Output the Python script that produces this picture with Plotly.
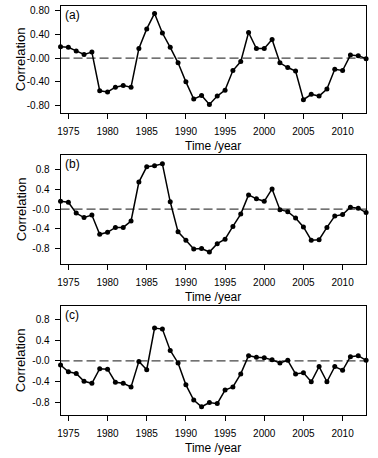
import plotly.graph_objects as go

years = list(range(1974, 2014))

corr_a = [0.19, 0.18, 0.12, 0.06, 0.10, -0.55, -0.57, -0.49, -0.46, -0.49,
          0.16, 0.49, 0.75, 0.42, 0.18, -0.08, -0.40, -0.69, -0.63, -0.78,
          -0.64, -0.54, -0.21, -0.06, 0.43, 0.16, 0.16, 0.31, -0.08, -0.16,
          -0.22, -0.70, -0.61, -0.64, -0.52, -0.19, -0.21, 0.05, 0.04, -0.01]

corr_b = [0.16, 0.14, -0.08, -0.17, -0.12, -0.51, -0.47, -0.37, -0.37, -0.24,
          0.55, 0.86, 0.88, 0.92, 0.15, -0.46, -0.63, -0.81, -0.80, -0.87,
          -0.70, -0.61, -0.35, -0.10, 0.29, 0.21, 0.16, 0.41, -0.01, -0.05,
          -0.18, -0.36, -0.63, -0.62, -0.37, -0.14, -0.11, 0.04, 0.02, -0.07]

corr_c = [-0.08, -0.21, -0.24, -0.39, -0.43, -0.15, -0.16, -0.41, -0.43, -0.50,
          -0.01, -0.17, 0.63, 0.61, 0.20, -0.04, -0.46, -0.75, -0.88, -0.80,
          -0.82, -0.56, -0.50, -0.25, 0.10, 0.07, 0.06, 0.02, -0.04, 0.01,
          -0.25, -0.23, -0.40, -0.11, -0.40, -0.11, -0.18, 0.08, 0.10, 0.01]

panel_labels = ["(a)", "(b)", "(c)"]
x_ticks = [1975, 1980, 1985, 1990, 1995, 2000, 2005, 2010]
y_tickvals = [0.8, 0.4, 0.0, -0.4, -0.8]
y_ticktext_a = ["0.80", "0.40", "-0.00", "-0.40", "-0.80"]
y_ticktext_bc = ["0.8", "0.4", "-0.0", "-0.4", "-0.8"]

W, H = 378, 458
FONT = "Liberation Sans, Arial, Helvetica, sans-serif"

x_px = (58, 366)
panels_px = [(5, 112), (154.3, 263.3), (305.3, 415)]
y_ranges = [(-0.92, 0.875), (-1.107, 1.10), (-1.04, 1.06)]
series = [corr_a, corr_b, corr_c]
ticktexts = [y_ticktext_a, y_ticktext_bc, y_ticktext_bc]

fig = go.Figure()
layout = dict(
    width=W, height=H,
    margin=dict(l=0, r=0, t=0, b=0),
    paper_bgcolor="white", plot_bgcolor="white",
    showlegend=False,
    font=dict(family=FONT, color="black"),
)
annotations = []
shapes = []
xd = [x_px[0] / W, x_px[1] / W]

for i in range(3):
    n = "" if i == 0 else str(i + 1)
    top, bot = panels_px[i]
    yd = [1 - bot / H, 1 - top / H]
    fig.add_trace(go.Scatter(
        x=years, y=series[i], mode="lines+markers",
        line=dict(color="black", width=1.5),
        marker=dict(color="black", size=5),
        xaxis="x" + n, yaxis="y" + n, cliponaxis=False,
    ))
    layout["xaxis" + n] = dict(
        domain=xd, anchor="y" + n, range=[1974, 2013],
        tickvals=x_ticks, ticks="outside", ticklen=5, tickwidth=1,
        tickcolor="black", showline=True, linecolor="black", linewidth=1,
        mirror=True, showgrid=False, zeroline=False,
        tickfont=dict(size=10, family=FONT, color="black"),
        ticklabelstandoff=4,
    )
    layout["yaxis" + n] = dict(
        domain=yd, anchor="x" + n, range=list(y_ranges[i]),
        tickvals=y_tickvals, ticktext=ticktexts[i],
        ticks="outside", ticklen=5, tickwidth=1,
        tickcolor="black", showline=True, linecolor="black", linewidth=1,
        mirror=True, showgrid=False, zeroline=False,
        tickfont=dict(size=10, family=FONT, color="black"),
        ticklabelstandoff=3,
    )
    shapes.append(dict(
        type="line", xref="x" + n + " domain", yref="y" + n,
        x0=0, x1=1, y0=0, y1=0,
        line=dict(color="#444444", width=1.3, dash="9px,4px"),
        layer="below",
    ))
    annotations.append(dict(
        text=panel_labels[i], xref="x" + n + " domain", yref="y" + n + " domain",
        x=0.008, y=1.0, xanchor="left", yanchor="top", showarrow=False,
        font=dict(size=12, family=FONT, color="black"),
    ))
    annotations.append(dict(
        text="Correlation", xref="paper", yref="paper",
        x=18 / W, y=(yd[0] + yd[1]) / 2, textangle=-90,
        xanchor="center", yanchor="middle", showarrow=False,
        font=dict(size=13, family=FONT, color="black"),
    ))
    annotations.append(dict(
        text="Time /year", xref="paper", yref="paper",
        x=(xd[0] + xd[1]) / 2, y=1 - (bot + 33) / H,
        xanchor="center", yanchor="middle", showarrow=False,
        font=dict(size=12, family=FONT, color="black"),
    ))

layout["annotations"] = annotations
layout["shapes"] = shapes
fig.update_layout(**layout)
fig.write_html(
    "out.html",
    config={"displayModeBar": False},
    post_script="document.body.style.margin='0';document.body.style.overflow='hidden';",
)
